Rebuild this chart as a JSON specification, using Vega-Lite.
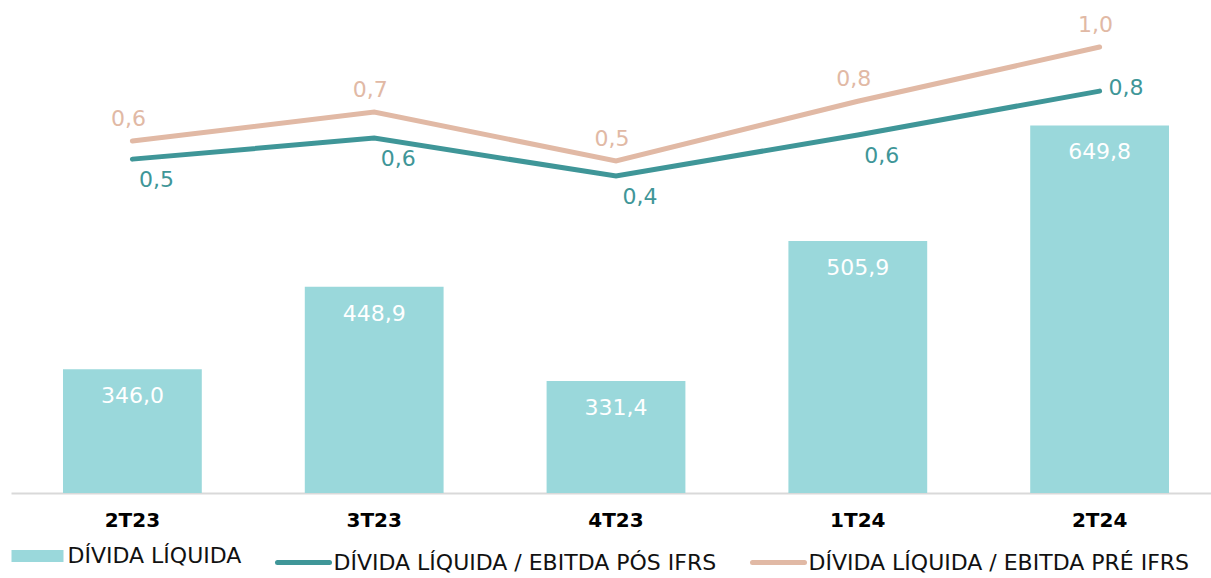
{
  "$schema": "https://vega.github.io/schema/vega-lite/v6.json",
  "width": 1200,
  "height": 493,
  "autosize": {"type": "none"},
  "padding": {"left": 11, "top": 0, "right": 0, "bottom": 85},
  "background": "white",
  "config": {
    "locale": {"number": {"decimal": ",", "thousands": ".", "grouping": [3], "currency": ["R$", ""]}},
    "view": {"stroke": null},
    "font": "DejaVu Sans",
    "legend": {
      "title": null,
      "orient": "bottom",
      "offset": 15,
      "direction": "horizontal",
      "symbolType": "stroke",
      "symbolSize": 2704,
      "symbolStrokeWidth": 5,
      "symbolOffset": 15.5,
      "labelFont": "DejaVu Sans",
      "labelFontSize": 22,
      "labelColor": "#111111",
      "labelLimit": 600,
      "labelOffset": 19,
      "columnPadding": 25,
      "padding": 0
    }
  },
  "data": {
    "values": [
      {"tri": "2T23", "serie": "DÍVIDA LÍQUIDA", "valor": 346.0},
      {"tri": "3T23", "serie": "DÍVIDA LÍQUIDA", "valor": 448.9},
      {"tri": "4T23", "serie": "DÍVIDA LÍQUIDA", "valor": 331.4},
      {"tri": "1T24", "serie": "DÍVIDA LÍQUIDA", "valor": 505.9},
      {"tri": "2T24", "serie": "DÍVIDA LÍQUIDA", "valor": 649.8},
      {"tri": "2T23", "serie": "DÍVIDA LÍQUIDA / EBITDA PÓS IFRS", "valor": 0.504},
      {"tri": "3T23", "serie": "DÍVIDA LÍQUIDA / EBITDA PÓS IFRS", "valor": 0.597},
      {"tri": "4T23", "serie": "DÍVIDA LÍQUIDA / EBITDA PÓS IFRS", "valor": 0.429},
      {"tri": "1T24", "serie": "DÍVIDA LÍQUIDA / EBITDA PÓS IFRS", "valor": 0.611},
      {"tri": "2T24", "serie": "DÍVIDA LÍQUIDA / EBITDA PÓS IFRS", "valor": 0.805},
      {"tri": "2T23", "serie": "DÍVIDA LÍQUIDA / EBITDA PRÉ IFRS", "valor": 0.584},
      {"tri": "3T23", "serie": "DÍVIDA LÍQUIDA / EBITDA PRÉ IFRS", "valor": 0.712},
      {"tri": "4T23", "serie": "DÍVIDA LÍQUIDA / EBITDA PRÉ IFRS", "valor": 0.496},
      {"tri": "1T24", "serie": "DÍVIDA LÍQUIDA / EBITDA PRÉ IFRS", "valor": 0.76},
      {"tri": "2T24", "serie": "DÍVIDA LÍQUIDA / EBITDA PRÉ IFRS", "valor": 1.0}
    ]
  },
  "encoding": {
    "x": {
      "field": "tri",
      "type": "nominal",
      "sort": ["2T23", "3T23", "4T23", "1T24", "2T24"],
      "scale": {"range": [0, 1210], "paddingInner": 0.426, "paddingOuter": 0.215},
      "axis": {
        "title": null,
        "labelAngle": 0,
        "labelFont": "DejaVu Sans",
        "labelFontSize": 20,
        "labelFontWeight": "bold",
        "labelColor": "#000000",
        "labelPadding": 17,
        "ticks": false,
        "domainColor": "#d9d9d9",
        "domainWidth": 2,
        "grid": false
      }
    }
  },
  "layer": [
    {
      "transform": [{"filter": "datum.serie === 'DÍVIDA LÍQUIDA'"}],
      "encoding": {
        "y": {"field": "valor", "type": "quantitative", "scale": {"domain": [192, 806], "zero": false}, "axis": null}
      },
      "layer": [
        {
          "mark": {"type": "bar", "clip": true},
          "encoding": {
            "color": {
              "field": "serie",
              "type": "nominal",
              "scale": {
                "domain": ["DÍVIDA LÍQUIDA", "DÍVIDA LÍQUIDA / EBITDA PÓS IFRS", "DÍVIDA LÍQUIDA / EBITDA PRÉ IFRS"],
                "range": ["#9AD8DB", "#3F9698", "#E1B9A5"]
              },
              "legend": {
                "encode": {
                  "symbols": {
                    "update": {
                      "fill": {"value": "transparent"},
                      "stroke": {"scale": "color", "field": "value"},
                      "strokeWidth": {"signal": "datum.value === 'DÍVIDA LÍQUIDA' ? 12 : 5"},
                      "strokeCap": {"signal": "datum.value === 'DÍVIDA LÍQUIDA' ? 'butt' : 'round'"},
                      "opacity": {"value": 1}
                    }
                  }
                }
              }
            }
          }
        },
        {
          "mark": {"type": "text", "baseline": "middle", "dy": 27, "fontSize": 22, "color": "white"},
          "encoding": {
            "text": {"field": "valor", "type": "quantitative", "format": ".1f"}
          }
        }
      ]
    },
    {
      "transform": [{"filter": "datum.serie !== 'DÍVIDA LÍQUIDA'"}],
      "encoding": {
        "y": {"field": "valor", "type": "quantitative", "scale": {"domain": [-0.973, 1.208], "zero": false}, "axis": null}
      },
      "layer": [
        {
          "mark": {"type": "line", "strokeWidth": 5, "strokeCap": "round", "strokeJoin": "miter"},
          "encoding": {
            "color": {"field": "serie", "type": "nominal"}
          }
        },
        {
          "transform": [{"filter": "datum.serie === 'DÍVIDA LÍQUIDA / EBITDA PRÉ IFRS'"}],
          "mark": {"type": "text", "baseline": "middle", "dy": -22, "dx": -4, "fontSize": 22, "color": "#E1B9A5"},
          "encoding": {"text": {"field": "valor", "type": "quantitative", "format": ".1f"}}
        },
        {
          "transform": [{"filter": "datum.serie === 'DÍVIDA LÍQUIDA / EBITDA PÓS IFRS' && datum.tri !== '2T24'"}],
          "mark": {"type": "text", "baseline": "middle", "dy": 21, "dx": 24, "fontSize": 22, "color": "#3F9698"},
          "encoding": {"text": {"field": "valor", "type": "quantitative", "format": ".1f"}}
        },
        {
          "transform": [{"filter": "datum.serie === 'DÍVIDA LÍQUIDA / EBITDA PÓS IFRS' && datum.tri === '2T24'"}],
          "mark": {"type": "text", "baseline": "middle", "align": "left", "dy": -3, "dx": 9, "fontSize": 22, "color": "#3F9698"},
          "encoding": {"text": {"field": "valor", "type": "quantitative", "format": ".1f"}}
        }
      ]
    }
  ],
  "resolve": {"scale": {"y": "independent"}}
}
